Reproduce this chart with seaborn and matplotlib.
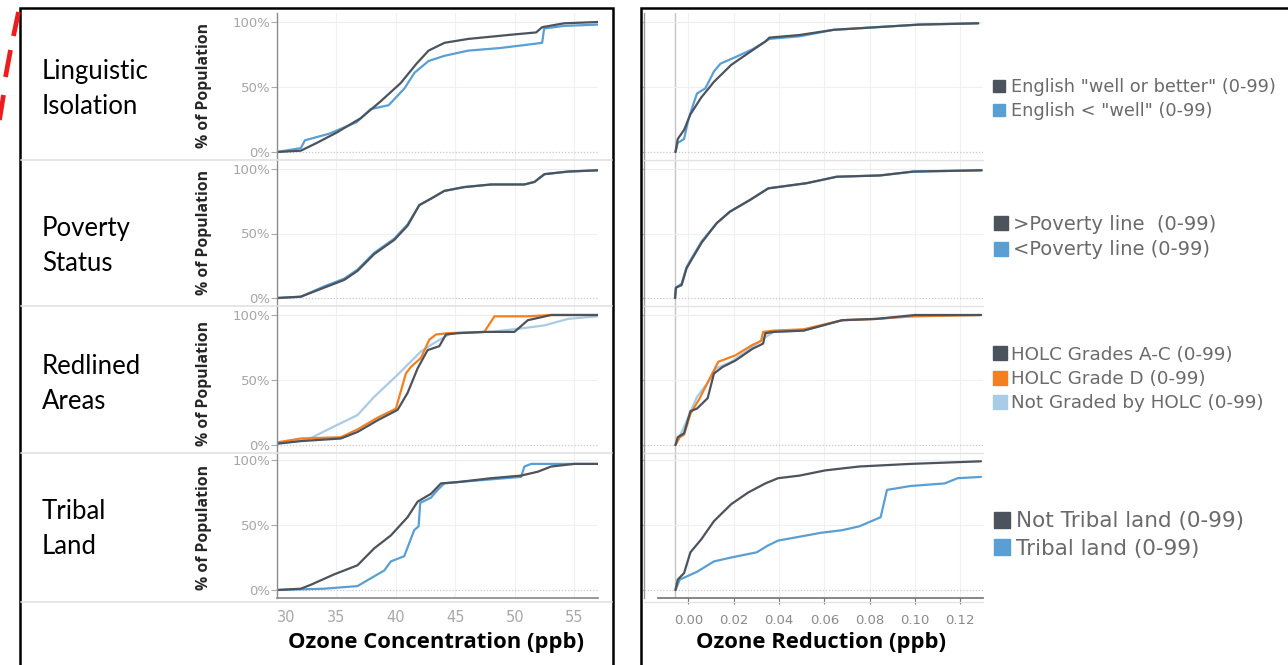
import pandas as pd
import seaborn as sns
import matplotlib.pyplot as plt
from matplotlib.lines import Line2D
from matplotlib.patches import Rectangle

# ---- values ----
row_titles = ["Linguistic\nIsolation", "Poverty\nStatus", "Redlined\nAreas", "Tribal\nLand"]

ling_groups = ['English "well or better" (0-99)', 'English < "well" (0-99)']
pov_groups = [">Poverty line  (0-99)", "<Poverty line (0-99)"]
red_groups = ["HOLC Grades A-C (0-99)", "HOLC Grade D (0-99)", "Not Graded by HOLC (0-99)"]
trib_groups = ["Not Tribal land (0-99)", "Tribal land (0-99)"]

# ozone concentration (ppb) vs cumulative % of population
ling_conc_well_x = [30, 32.0, 33.35, 35.03, 37.04, 38.72, 40.40, 41.74, 42.75, 44.09, 46.10, 49.45, 51.80, 52.30, 54.15, 57.0]
ling_conc_well_y = [0, 1, 7, 15, 26, 39, 53, 68, 78, 84, 87, 90, 92, 96, 99, 100]
ling_conc_less_x = [30, 32.0, 32.35, 34.36, 36.71, 37.88, 39.39, 40.73, 41.57, 42.75, 44.09, 46.10, 48.78, 51.47, 52.30, 52.47, 54.15, 57.0]
ling_conc_less_y = [0, 3, 9, 14, 23, 33, 36, 49, 61, 70, 74, 78, 80, 83, 84, 95, 97, 98]

pov_conc_above_x = [30.0, 32.0, 33.96, 35.65, 36.77, 38.17, 39.86, 40.98, 41.97, 42.95, 44.07, 45.76, 48.01, 50.81, 51.66, 52.50, 54.47, 57.0]
pov_conc_above_y = [0, 1, 8, 14, 21, 34, 45, 56, 72, 77, 83, 86, 88, 88, 90, 96, 98, 99]
pov_conc_below_x = [30.0, 32.0, 33.96, 35.65, 36.77, 38.17, 39.86, 40.98, 41.97, 42.95, 44.07, 45.76, 48.01, 50.81, 51.66, 52.50, 54.47, 57.0]
pov_conc_below_y = [0, 1, 9, 15, 22, 35, 46, 57, 72, 77, 83, 86, 88, 88, 90, 96, 98, 99]

red_conc_ac_x = [30.0, 32.0, 35.37, 36.77, 38.46, 40.14, 40.98, 41.83, 42.67, 43.65, 44.21, 45.20, 47.44, 49.97, 51.10, 53.06, 57.0]
red_conc_ac_y = [1, 3, 5, 10, 19, 27, 40, 59, 73, 76, 85, 86, 87, 87, 96, 100, 100]
red_conc_d_x = [30.0, 32.0, 35.37, 36.77, 38.46, 40.0, 40.84, 41.26, 42.11, 42.81, 43.37, 44.35, 47.44, 48.29, 51.10, 53.06, 57.0]
red_conc_d_y = [2, 5, 6, 12, 21, 28, 55, 60, 67, 81, 85, 86, 87, 99, 99, 100, 100]
red_conc_ng_x = [30.0, 32.56, 34.52, 36.77, 38.17, 40.14, 42.11, 42.95, 44.63, 48.01, 50.81, 52.50, 54.47, 57.0]
red_conc_ng_y = [1, 4, 13, 23, 37, 54, 72, 77, 86, 87, 90, 92, 97, 99]

trib_conc_not_x = [30.0, 32.0, 32.84, 34.80, 36.77, 38.17, 39.58, 40.98, 41.83, 42.95, 43.79, 45.20, 48.01, 50.53, 51.94, 53.06, 55.03, 57.0]
trib_conc_not_y = [0, 1, 4, 12, 19, 32, 42, 56, 68, 74, 82, 83, 86, 88, 91, 95, 97, 97]
trib_conc_yes_x = [30.0, 33.96, 36.77, 37.89, 39.02, 39.58, 40.70, 41.54, 41.91, 42.05, 42.95, 43.51, 44.07, 45.20, 50.53, 50.81, 51.38, 57.0]
trib_conc_yes_y = [0, 1, 3, 9, 15, 22, 26, 46, 49, 67, 71, 77, 82, 83, 87, 95, 97, 97]

# ozone reduction (ppb) vs cumulative % of population
ling_red_well_x = [-0.0057, -0.0047, -0.0019, 0.0009, 0.0057, 0.0113, 0.0189, 0.0264, 0.0340, 0.0358, 0.0491, 0.0642, 0.0830, 0.1019, 0.1280]
ling_red_well_y = [0, 10, 17, 29, 42, 54, 67, 76, 85, 88, 90, 94, 96, 98, 99]
ling_red_less_x = [-0.0057, -0.0047, -0.0019, 0.0, 0.0028, 0.0038, 0.0075, 0.0113, 0.0142, 0.0208, 0.0283, 0.0340, 0.0358, 0.0491, 0.0642, 0.0830, 0.1019, 0.1280]
ling_red_less_y = [0, 7, 10, 25, 40, 45, 49, 62, 68, 73, 79, 85, 87, 89, 94, 96, 98, 99]

pov_red_above_x = [-0.0059, -0.0055, -0.0030, -0.0008, 0.0015, 0.0059, 0.0125, 0.0184, 0.0272, 0.0353, 0.0522, 0.0655, 0.0846, 0.0993, 0.1295]
pov_red_above_y = [0, 8, 10, 23, 30, 43, 58, 67, 76, 85, 89, 94, 95, 98, 99]
pov_red_below_x = [-0.0059, -0.0055, -0.0030, -0.0008, 0.0015, 0.0059, 0.0125, 0.0184, 0.0272, 0.0353, 0.0522, 0.0655, 0.0846, 0.0993, 0.1295]
pov_red_below_y = [0, 8, 11, 24, 31, 44, 58, 67, 76, 85, 89, 94, 95, 98, 99]

red_red_ac_x = [-0.0057, -0.0047, -0.0019, 0.0009, 0.0038, 0.0085, 0.0113, 0.0151, 0.0208, 0.0283, 0.0330, 0.0340, 0.0377, 0.0509, 0.0679, 0.0830, 0.1000, 0.1292]
red_red_ac_y = [0, 6, 9, 26, 28, 36, 55, 60, 65, 74, 78, 86, 87, 88, 96, 97, 100, 100]
red_red_d_x = [-0.0057, -0.0038, -0.0019, 0.0009, 0.0047, 0.0132, 0.0208, 0.0283, 0.0321, 0.0330, 0.0377, 0.0509, 0.0679, 0.0830, 0.0981, 0.1292]
red_red_d_y = [0, 6, 8, 24, 35, 64, 69, 77, 80, 87, 88, 89, 96, 97, 99, 100]
red_red_ng_x = [-0.0057, -0.0019, 0.0038, 0.0094, 0.0123, 0.0189, 0.0264, 0.0340, 0.0377, 0.0509, 0.0679, 0.0830, 0.1000, 0.1292]
red_red_ng_y = [0, 14, 37, 50, 59, 64, 73, 83, 87, 88, 96, 97, 99, 100]

trib_red_not_x = [-0.0057, -0.0047, -0.0019, 0.0009, 0.0057, 0.0113, 0.0189, 0.0264, 0.0340, 0.0396, 0.0491, 0.0604, 0.0755, 0.0981, 0.1292]
trib_red_not_y = [0, 8, 13, 29, 39, 53, 66, 75, 82, 86, 88, 92, 95, 97, 99]
trib_red_yes_x = [-0.0057, -0.0038, 0.0038, 0.0113, 0.0189, 0.0302, 0.0349, 0.0396, 0.0491, 0.0585, 0.0679, 0.0755, 0.0849, 0.0877, 0.0981, 0.1132, 0.1189, 0.1292]
trib_red_yes_y = [0, 8, 14, 22, 25, 29, 34, 38, 41, 44, 46, 49, 56, 77, 80, 82, 86, 87]

conc_ticks = [30, 35, 40, 45, 50, 55]
red_ticks = [0.00, 0.02, 0.04, 0.06, 0.08, 0.10, 0.12]
pct_ticks = [0, 50, 100]

DARK = "#4c535c"
BLUE = "#5a9fd3"
ORANGE = "#f47f20"
LBLUE = "#a9cbe6"

# each row: group names, colours, concentration series, reduction series (same order as names)
rows = [
    (ling_groups, [DARK, BLUE],
     [(ling_conc_well_x, ling_conc_well_y), (ling_conc_less_x, ling_conc_less_y)],
     [(ling_red_well_x, ling_red_well_y), (ling_red_less_x, ling_red_less_y)]),
    (pov_groups, [DARK, BLUE],
     [(pov_conc_above_x, pov_conc_above_y), (pov_conc_below_x, pov_conc_below_y)],
     [(pov_red_above_x, pov_red_above_y), (pov_red_below_x, pov_red_below_y)]),
    (red_groups, [DARK, ORANGE, LBLUE],
     [(red_conc_ac_x, red_conc_ac_y), (red_conc_d_x, red_conc_d_y), (red_conc_ng_x, red_conc_ng_y)],
     [(red_red_ac_x, red_red_ac_y), (red_red_d_x, red_red_d_y), (red_red_ng_x, red_red_ng_y)]),
    (trib_groups, [DARK, BLUE],
     [(trib_conc_not_x, trib_conc_not_y), (trib_conc_yes_x, trib_conc_yes_y)],
     [(trib_red_not_x, trib_red_not_y), (trib_red_yes_x, trib_red_yes_y)]),
]
legend_sizes = [12.8, 14, 13.2, 15.5]


def frame(series, names):
    parts = []
    for (xs, ys), name in zip(series, names):
        parts.append(pd.DataFrame({"x": xs, "pct": ys, "group": name}))
    return pd.concat(parts, ignore_index=True)


sns.set_theme(style="white")
plt.rcParams["font.family"] = ["DejaVu Sans"]

W, H = 1288, 665
fig = plt.figure(figsize=(W / 100, H / 100), dpi=100)


def px_axes(x0, y0, x1, y1):
    return fig.add_axes([x0 / W, 1 - y1 / H, (x1 - x0) / W, (y1 - y0) / H])


def px_line(xs, ys, **kw):
    fig.add_artist(Line2D([x / W for x in xs], [1 - y / H for y in ys],
                          transform=fig.transFigure, **kw))


# outer boxes
fig.patches.append(Rectangle((20 / W, -0.05), 593 / W, 1.05 - 8 / H, transform=fig.transFigure,
                             fill=False, edgecolor="black", linewidth=1.8))
fig.patches.append(Rectangle((641 / W, -0.05), 660 / W, 1.05 - 8 / H, transform=fig.transFigure,
                             fill=False, edgecolor="black", linewidth=1.8))
# red dashed callout line at the top-left edge (three dashes)
for xs, ys in [([18.5, 13.5], [12, 36]), ([10.5, 5.5], [50, 77]), ([3.5, -0.5], [95, 120])]:
    px_line(xs, ys, color="#ee1c1c", linewidth=3.4, solid_capstyle="butt", zorder=10)

y100 = [22, 169, 315, 460]
y0 = [152, 298, 445, 590]
separators = [160, 306, 453, 602]
title_centers = [89, 246, 384, 529]
ylab_centers = [85, 232, 383, 527]
legend_centers = [99, 237, 379, 535]

for sep in separators:
    px_line([21, 612], [sep, sep], color="#e2e2e2", linewidth=1.2)
    px_line([644, 983], [sep, sep], color="#e2e2e2", linewidth=1.0)

for i, (names, colors, conc, red) in enumerate(rows):
    scale = (y0[i] - y100[i]) / 100.0
    top = y100[i] - 7 * scale
    bot = y0[i] + 6 * scale
    palette = dict(zip(names, colors))
    hue_order = names[::-1]  # first group drawn last, on top

    # row title and y-axis title
    fig.text(42 / W, 1 - title_centers[i] / H, row_titles[i], family=["Lato", "DejaVu Sans"],
             fontsize=18.5, color="black", va="center", ha="left", linespacing=1.5)
    fig.text(204 / W, 1 - ylab_centers[i] / H, "% of Population", family=["Open Sans", "DejaVu Sans"],
             fontsize=11.3, fontweight="bold", rotation=90, va="center", ha="center")

    # left: ozone concentration
    axl = px_axes(277, top, 598, bot)
    df = frame(conc, names)
    sns.lineplot(data=df, x="x", y="pct", hue="group", hue_order=hue_order, palette=palette,
                 estimator=None, sort=False, linewidth=1.6, legend=False, ax=axl)
    axl.set_xlim(30, 57)
    axl.set_ylim(-6, 107)
    axl.set_yticks(pct_ticks)
    axl.set_yticklabels([f"{t}%" for t in pct_ticks], color="#a5a5a5", fontsize=9.5)
    axl.tick_params(axis="y", length=4, width=0.8, color="#aaaaaa", pad=1, left=True)
    axl.set_xticks(conc_ticks)
    for t in conc_ticks:
        axl.axvline(t, color="#f0f0f0", linewidth=0.8, zorder=0)
    axl.axhline(50, color="#f0f0f0", linewidth=0.8, zorder=0)
    axl.axhline(100, color="#ececec", linewidth=0.8, zorder=0)
    axl.axhline(0, color="#c8c8c8", linewidth=0.9, linestyle=(0, (1, 1.5)), zorder=0)
    axl.set_xlabel("")
    axl.set_ylabel("")
    for s in ["top", "right", "bottom"]:
        axl.spines[s].set_visible(False)
    axl.spines["left"].set_color("#8c8c8c")
    axl.spines["left"].set_linewidth(1.0)

    # right: ozone reduction
    axr = px_axes(644, top, 983, bot)
    df = frame(red, names)
    sns.lineplot(data=df, x="x", y="pct", hue="group", hue_order=hue_order, palette=palette,
                 estimator=None, sort=False, linewidth=1.6, legend=False, ax=axr)
    axr.set_xlim(-0.0196, 0.1301)
    axr.set_ylim(-6, 107)
    axr.set_yticks(pct_ticks)
    axr.set_yticklabels([])
    axr.tick_params(axis="y", length=3, width=0.8, color="#aaaaaa", left=True)
    axr.set_xticks(red_ticks)
    for t in red_ticks:
        axr.axvline(t, color="#f0f0f0", linewidth=0.8, zorder=0)
    axr.axvline(-0.0057, color="#c4c4c4", linewidth=1.0, zorder=0)
    axr.axhline(50, color="#f0f0f0", linewidth=0.8, zorder=0)
    axr.axhline(100, color="#ececec", linewidth=0.8, zorder=0)
    axr.axhline(0, color="#c8c8c8", linewidth=0.9, linestyle=(0, (1, 1.5)), zorder=0)
    axr.set_xlabel("")
    axr.set_ylabel("")
    for s in ["top", "right", "bottom"]:
        axr.spines[s].set_visible(False)
    axr.spines["left"].set_color("#9a9a9a")
    axr.spines["left"].set_linewidth(1.0)

    if i < 3:
        axl.set_xticklabels([])
        axr.set_xticklabels([])
        axl.tick_params(axis="x", length=0)
        axr.tick_params(axis="x", length=0)
    else:
        axl.spines["bottom"].set_visible(True)
        axl.spines["bottom"].set_color("#8c8c8c")
        axl.set_xticklabels([str(t) for t in conc_ticks], color="#a8a8a8", fontsize=10.5)
        axl.get_xticklabels()[0].set_horizontalalignment("left")
        axl.tick_params(axis="x", length=0, pad=9)
        axr.spines["bottom"].set_visible(True)
        axr.spines["bottom"].set_color("#777777")
        axr.spines["bottom"].set_bounds(-0.0132, 0.1301)
        axr.set_xticklabels([f"{t:.2f}" for t in red_ticks], color="#8a8a8a", fontsize=9.5)
        axr.tick_params(axis="x", length=4, width=0.8, color="#777777", bottom=True, pad=8)
        axl.set_xlabel("Ozone Concentration (ppb)", family=["Open Sans", "DejaVu Sans"],
                       fontsize=15.8, fontweight="bold", color="black")
        axr.set_xlabel("Ozone Reduction (ppb)", family=["Open Sans", "DejaVu Sans"],
                       fontsize=15.8, fontweight="bold", color="black")
        axl.xaxis.set_label_coords((436 - 277) / 321, -0.23)
        axr.xaxis.set_label_coords((821 - 644) / 339, -0.23)

    # legend with square swatches
    fs = legend_sizes[i]
    handles = [Line2D([], [], marker="s", linestyle="", markersize=fs * 0.72, color=palette[n])
               for n in names]
    leg = fig.legend(handles, names, loc="center left",
                     bbox_to_anchor=(983 / W, 1 - legend_centers[i] / H),
                     frameon=False, fontsize=fs, handletextpad=0.15, handlelength=1.0,
                     labelspacing=0.35, borderaxespad=0)
    for txt in leg.get_texts():
        txt.set_color("#6a6a6a")

fig.savefig("out.png", dpi=100)
